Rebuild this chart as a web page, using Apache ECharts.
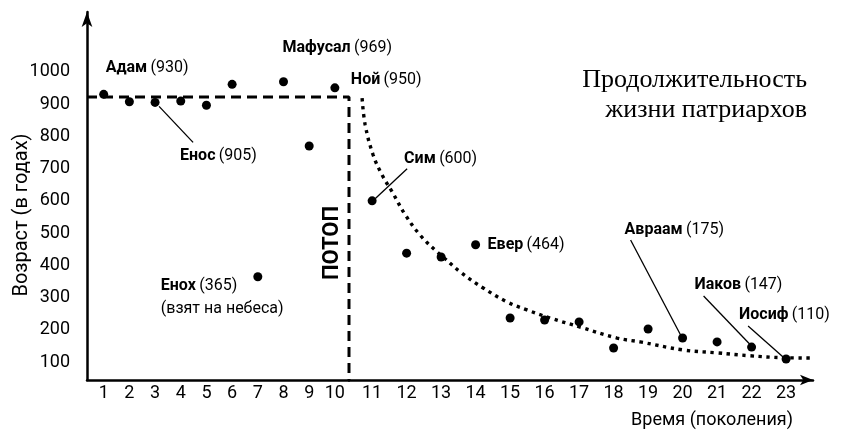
<!DOCTYPE html>
<html><head><meta charset="utf-8">
<script src="https://cdn.jsdelivr.net/npm/echarts@6/dist/echarts.min.js"></script>
<style>html,body{margin:0;padding:0;background:#fff}#c{width:846px;height:430px}</style>
</head><body><div id="c"></div>
<script>
// ---- data ----
const preFloodGen = [1, 2, 3, 4, 5, 6, 7, 8, 9, 10];
const preFloodAge = [930, 907, 905, 909, 896, 961, 365, 969, 770, 950];
const preFloodNames = ['Адам', '', 'Енос', '', '', '', 'Енох', 'Мафусал', '', 'Ной'];
const postFloodGen = [11, 12, 13, 14, 15, 16, 17, 18, 19, 20, 21, 22, 23];
const postFloodAge = [600, 438, 426, 464, 237, 231, 225, 144, 203, 175, 163, 147, 110];
const postFloodNames = ['Сим', '', '', 'Евер', '', '', '', '', '', 'Авраам', '', 'Иаков', 'Иосиф'];
const trendGen = [10.71, 10.80, 11.03, 11.29, 11.58, 11.96, 12.39, 12.88, 13.06, 13.55, 14.22, 14.91, 15.49, 16.16, 17.03, 18.10, 18.77, 20.02, 21.01, 21.96, 22.92, 23.78];
const trendAge = [918, 835, 742, 680, 628, 557, 494, 442, 426, 380, 330, 287, 262, 237, 209, 175, 163, 138, 129, 120, 114, 113];
const floodGen = 10.55;
const floodLevel = 922;
const yTicks = [100, 200, 300, 400, 500, 600, 700, 800, 900, 1000];
const xTicksBefore = [1, 2, 3, 4, 5, 6, 7, 8, 9, 10];
const xTicksAfter = [11, 12, 13, 14, 15, 16, 17, 18, 19, 20, 21, 22, 23];
const yMin = 45, yMax = 1185;
const xMinA = 0.35, xMaxA = floodGen;
const xMinB = 10.33, xMaxB = 23.78;
const extraNote = '(взят на небеса)';

// ---- styles ----
const F = "Roboto,'Noto Sans',sans-serif";
const labelSpec = {
  'Адам': {offset: [2, -26]},
  'Енос': {offset: [25, 54], lead: [4, 4, 38, 40]},
  'Енох': {offset: [-97, 21], note: true},
  'Мафусал': {offset: [-1, -34]},
  'Ной': {offset: [16, -8]},
  'Сим': {offset: [32, -42], lead: [3, -2, 35, -32]},
  'Евер': {offset: [12, 0]},
  'Авраам': {offset: [-58, -108], lead: [-2, -3, -52, -98]},
  'Иаков': {offset: [-57, -62], lead: [-2, -3, -48, -51]},
  'Иосиф': {offset: [-47, -44], lead: [-3, -2, -38, -33]}
};
const rich = {
  b: {fontFamily: F, fontWeight: 'bold', fontSize: 16, color: '#000', lineHeight: 23},
  n: {fontFamily: F, fontSize: 16, color: '#000', lineHeight: 23}
};
function makeData(gens, ages, names) {
  return gens.map((g, i) => {
    const item = {value: [g, ages[i]], name: names[i]};
    const spec = labelSpec[names[i]];
    if (spec) {
      item.label = {
        show: true, position: 'inside', align: 'left', verticalAlign: 'middle',
        offset: spec.offset, rich: rich,
        formatter: '{b|' + names[i] + '} {n|(' + ages[i] + ')}' + (spec.note ? '\n{n|' + extraNote + '}' : '')
      };
    }
    return item;
  });
}
function leadData(gens, ages, names) {
  const out = [];
  gens.forEach((g, i) => { if (labelSpec[names[i]] && labelSpec[names[i]].lead) out.push({value: [g, ages[i]], name: names[i]}); });
  return out;
}
function mkRender(list) {
  return function (params, api) {
    const p = api.coord([api.value(0), api.value(1)]);
    const L = labelSpec[list[params.dataIndex].name].lead;
    return {type: 'line', shape: {x1: p[0] + L[0], y1: p[1] + L[1], x2: p[0] + L[2], y2: p[1] + L[3]},
            style: {stroke: '#000', lineWidth: 1.3}};
  };
}
const axisLine = {lineStyle: {color: '#000', width: 2.5}};
const tickLabel = {fontFamily: F, fontSize: 18, color: '#000'};

const chart = echarts.init(document.getElementById('c'), null, {renderer: 'canvas'});
const leadsA = leadData(preFloodGen, preFloodAge, preFloodNames);
const leadsB = leadData(postFloodGen, postFloodAge, postFloodNames);
chart.setOption({
  backgroundColor: '#fff',
  animation: false,
  grid: [
    {left: 87, width: 262, top: 12, bottom: 50},
    {left: 349, right: 33, top: 12, bottom: 50}
  ],
  xAxis: [
    {type: 'value', gridIndex: 0, min: xMinA, max: xMaxA, splitLine: {show: false},
     axisLine: axisLine, axisTick: {show: false},
     axisLabel: Object.assign({customValues: xTicksBefore, margin: 4}, tickLabel)},
    {type: 'value', gridIndex: 1, min: xMinB, max: xMaxB, splitLine: {show: false},
     axisLine: Object.assign({symbol: ['none', 'arrow'], symbolSize: [8, 13]}, axisLine), axisTick: {show: false},
     axisLabel: Object.assign({customValues: xTicksAfter, margin: 4}, tickLabel)}
  ],
  yAxis: [
    {type: 'value', gridIndex: 0, min: yMin, max: yMax, splitLine: {show: false},
     axisLine: Object.assign({show: true, symbol: ['none', 'arrow'], symbolSize: [8, 15]}, axisLine), axisTick: {show: false},
     axisLabel: Object.assign({customValues: yTicks, margin: 17, formatter: v => String(v)}, tickLabel)},
    {type: 'value', gridIndex: 1, min: yMin, max: yMax, show: false}
  ],
  series: [
    {type: 'line', xAxisIndex: 0, yAxisIndex: 0, symbol: 'none', silent: true,
     data: [[xMinA, floodLevel], [floodGen, floodLevel], [floodGen, yMin]],
     lineStyle: {color: '#000', width: 3, type: [10, 6]}, z: 1},
    {type: 'line', xAxisIndex: 1, yAxisIndex: 1, symbol: 'none', smooth: 0.4, silent: true,
     data: trendGen.map((g, i) => [g, trendAge[i]]),
     lineStyle: {color: '#000', width: 3.4, type: [3.4, 4.6]}, z: 1},
    {type: 'custom', xAxisIndex: 0, yAxisIndex: 0, silent: true, data: leadsA, renderItem: mkRender(leadsA), z: 2},
    {type: 'custom', xAxisIndex: 1, yAxisIndex: 1, silent: true, data: leadsB, renderItem: mkRender(leadsB), z: 2},
    {type: 'scatter', xAxisIndex: 0, yAxisIndex: 0, symbolSize: 9, itemStyle: {color: '#000', opacity: 1},
     data: makeData(preFloodGen, preFloodAge, preFloodNames), z: 3},
    {type: 'scatter', xAxisIndex: 1, yAxisIndex: 1, symbolSize: 9, itemStyle: {color: '#000', opacity: 1},
     data: makeData(postFloodGen, postFloodAge, postFloodNames), z: 3}
  ],
  graphic: [
    {type: 'text', x: 22, y: 215, rotation: Math.PI / 2,
     style: {text: 'Возраст (в годах)', font: '20px ' + F, fill: '#000', align: 'center', verticalAlign: 'middle'}},
    {type: 'text', x: 332, y: 243, rotation: Math.PI / 2,
     style: {text: 'ПОТОП', font: 'bold 22px ' + F, fill: '#000', align: 'center', verticalAlign: 'middle'}},
    {type: 'text', x: 793, y: 420,
     style: {text: 'Время (поколения)', font: '18px ' + F, fill: '#000', align: 'right', verticalAlign: 'middle'}},
    {type: 'text', x: 807, y: 65,
     style: {text: 'Продолжительность\nжизни патриархов', font: '26px "Liberation Serif", serif', fill: '#000', align: 'right', verticalAlign: 'top', lineHeight: 30}}
  ]
});
</script>
</body></html>
